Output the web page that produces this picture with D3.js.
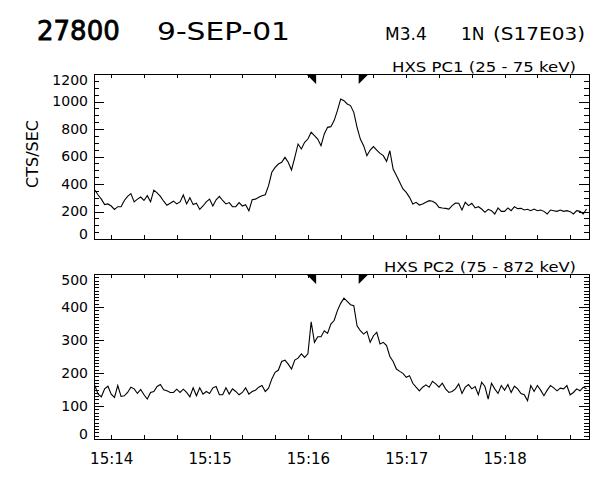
<!DOCTYPE html>
<html>
<head>
<meta charset="utf-8">
<title>HXS 27800 9-SEP-01</title>
<script src="https://cdnjs.cloudflare.com/ajax/libs/d3/7.8.5/d3.min.js"></script>
<style>
  body { margin: 0; background: #fff; }
  svg { font-family: "DejaVu Sans", sans-serif; }
  .axis path { display: none; }
  .axis line { stroke: #000; shape-rendering: crispEdges; }
  .axis text { fill: #000; font-family: "DejaVu Sans", sans-serif; font-size: 14px; }
  .axis.time text { font-size: 15px; }
  .frame { fill: none; stroke: #000; shape-rendering: crispEdges; }
  .trace { fill: none; stroke: #000; stroke-width: 1.1; }
</style>
</head>
<body>
<div id="chart"></div>
<script>
// samples every 2 s from 15:13:50 UT
const startTime = "15:13:50";
const stepSeconds = 2;

// HXS PC1 (25 - 75 keV), counts/s
const pc1 = [
  356, 320, 290, 250, 255, 240, 215, 235, 235, 280,
  310, 330, 270, 290, 305, 280, 315, 270, 355, 335,
  310, 275, 245, 260, 275, 255, 270, 320, 255, 300,
  250, 260, 215, 240, 270, 290, 240, 285, 310, 280,
  255, 265, 235, 235, 265, 240, 250, 205, 285, 290,
  303, 315, 322, 388, 485, 521, 545, 558, 594, 558,
  502, 594, 691, 655, 703, 727, 776, 752, 727, 679,
  764, 812, 817, 861, 933, 1018, 1006, 982, 970, 921,
  812, 727, 679, 606, 647, 672, 647, 623, 606, 565,
  642, 509, 461, 412, 364, 339, 303, 255, 267, 247,
  255, 267, 279, 274, 260, 230, 226, 223, 218, 243,
  262, 260, 211, 267, 243, 260, 226, 235, 218, 194,
  216, 206, 182, 226, 201, 201, 226, 206, 235, 221,
  223, 211, 216, 206, 218, 206, 211, 201, 182, 211,
  206, 201, 211, 201, 206, 199, 182, 206, 201, 182, 218
];

// HXS PC2 (75 - 872 keV), counts/s
const pc2 = [
  162, 136, 128, 152, 160, 136, 126, 162, 129, 131,
  141, 157, 152, 138, 150, 134, 121, 141, 144, 159,
  165, 149, 146, 141, 141, 151, 141, 151, 141, 128,
  155, 131, 155, 136, 144, 138, 155, 159, 134, 134,
  155, 136, 152, 144, 134, 141, 155, 136, 144, 148,
  157, 162, 144, 154, 182, 202, 209, 235, 239, 227,
  212, 239, 245, 258, 247, 258, 355, 293, 310, 310,
  328, 320, 348, 359, 389, 411, 427, 417, 407, 404,
  343, 328, 318, 326, 293, 313, 323, 288, 293, 283,
  250, 235, 212, 205, 199, 187, 192, 169, 157, 146,
  157, 164, 157, 175, 167, 157, 169, 152, 141, 144,
  152, 167, 138, 157, 165, 152, 159, 134, 172, 159,
  121, 169, 152, 138, 162, 148, 165, 141, 160, 152,
  138, 134, 116, 162, 144, 162, 148, 131, 148, 162,
  155, 146, 154, 152, 162, 134, 141, 152, 146, 157, 152
];

const pc1Ticks = [0, 200, 400, 600, 800, 1000, 1200];
const pc2Ticks = [0, 100, 200, 300, 400, 500];
const timeLabels = ["15:14", "15:15", "15:16", "15:17", "15:18"];
const markerTimes = ["15:16:05", "15:16:31"];

const width = 600;
const height = 480;
const left = 94, right = 589;
const panelH = 165;

function parseTime(s) {
  const [h, m, sec = 0] = s.split(":").map(Number);
  return new Date(Date.UTC(2001, 8, 9, h, m, sec));
}

const t0 = parseTime(startTime);
const times = pc1.map((_, i) => d3.utcSecond.offset(t0, i * stepSeconds));

const x = d3.scaleUtc()
  .domain([d3.utcMillisecond.offset(t0, -500), d3.utcMillisecond.offset(times[times.length - 1], -500 + 2000)])
  .range([left, right]);

const svg = d3.select("#chart").append("svg")
  .attr("width", width)
  .attr("height", height);

// header
svg.append("text").attr("x", 37).attr("y", 40)
  .attr("font-size", 26).attr("stroke", "#000").attr("stroke-width", 0.8)
  .text("27800");
svg.append("text").attr("x", 157).attr("y", 40)
  .attr("font-size", 25).attr("textLength", 133).attr("lengthAdjust", "spacingAndGlyphs")
  .text("9-SEP-01");
svg.append("text").attr("x", 385).attr("y", 40).attr("font-size", 17).text("M3.4");
svg.append("text").attr("x", 461).attr("y", 40).attr("font-size", 17).text("1N");
svg.append("text").attr("x", 493).attr("y", 40).attr("font-size", 17)
  .attr("textLength", 92).attr("lengthAdjust", "spacingAndGlyphs").text("(S17E03)");

svg.append("text")
  .attr("transform", "translate(38,154) rotate(-90)")
  .attr("text-anchor", "middle")
  .attr("font-size", 16)
  .text("CTS/SEC");

const panels = [
  { values: pc1, ticks: pc1Ticks, minor: 50, top: 74, label: "HXS PC1 (25 - 75 keV)", labelW: 184, bottomLabels: false },
  { values: pc2, ticks: pc2Ticks, minor: 10, top: 274, label: "HXS PC2 (75 - 872 keV)", labelW: 192, bottomLabels: true }
];

const xTicks = x.ticks(d3.utcSecond.every(20));

panels.forEach(p => {
  const max = d3.max(p.ticks);
  const y = d3.scaleLinear().domain([0, max]).range([p.top + panelH, p.top]);
  const minorTicks = d3.range(0, max + p.minor / 2, p.minor).filter(v => !p.ticks.includes(v));
  const g = svg.append("g");

  // left axis
  g.append("g").attr("class", "axis")
    .attr("transform", `translate(${left},0)`)
    .call(d3.axisLeft(y).tickValues(p.ticks).tickSize(-10).tickPadding(6).tickFormat(d3.format("d")))
    .selectAll("text")
    .attr("y", d => d === max ? 6 : d === 0 ? -5 : 0);
  g.append("g").attr("class", "axis")
    .attr("transform", `translate(${left},0)`)
    .call(d3.axisLeft(y).tickValues(minorTicks).tickSize(-5).tickFormat(""));

  // right axis
  g.append("g").attr("class", "axis")
    .attr("transform", `translate(${right},0)`)
    .call(d3.axisRight(y).tickValues(p.ticks).tickSize(-10).tickFormat(""));
  g.append("g").attr("class", "axis")
    .attr("transform", `translate(${right},0)`)
    .call(d3.axisRight(y).tickValues(minorTicks).tickSize(-5).tickFormat(""));

  // time ticks top and bottom
  g.append("g").attr("class", "axis")
    .attr("transform", `translate(0,${p.top})`)
    .call(d3.axisTop(x).tickValues(xTicks).tickSize(-4).tickFormat(""));
  g.append("g").attr("class", "axis")
    .attr("transform", `translate(0,${p.top + panelH})`)
    .call(d3.axisBottom(x).tickValues(xTicks).tickSize(-4).tickFormat(""));

  if (p.bottomLabels) {
    g.append("g").attr("class", "axis time")
      .attr("transform", `translate(0,${p.top + panelH})`)
      .call(d3.axisBottom(x).tickValues(timeLabels.map(parseTime)).tickSize(0).tickPadding(14)
        .tickFormat(d3.utcFormat("%H:%M")));
  }

  g.append("rect").attr("class", "frame")
    .attr("x", left + 0.5).attr("y", p.top + 0.5)
    .attr("width", right - left).attr("height", panelH);

  // data
  g.append("path").attr("class", "trace")
    .datum(p.values)
    .attr("d", d3.line().x((d, i) => x(times[i])).y(d => y(d)));

  // interval markers
  markerTimes.map(parseTime).forEach((t, i) => {
    const mx = x(t);
    const pts = i === 0
      ? [[mx - 10, p.top], [mx, p.top], [mx, p.top + 10]]
      : [[mx, p.top], [mx + 10, p.top], [mx, p.top + 10]];
    g.append("polygon").attr("points", pts.map(q => q.join(",")).join(" ")).attr("fill", "#000");
  });

  g.append("text")
    .attr("x", 576).attr("y", p.top - 2)
    .attr("text-anchor", "end")
    .attr("font-size", 14)
    .attr("textLength", p.labelW).attr("lengthAdjust", "spacingAndGlyphs")
    .text(p.label);
});
</script>
</body>
</html>
